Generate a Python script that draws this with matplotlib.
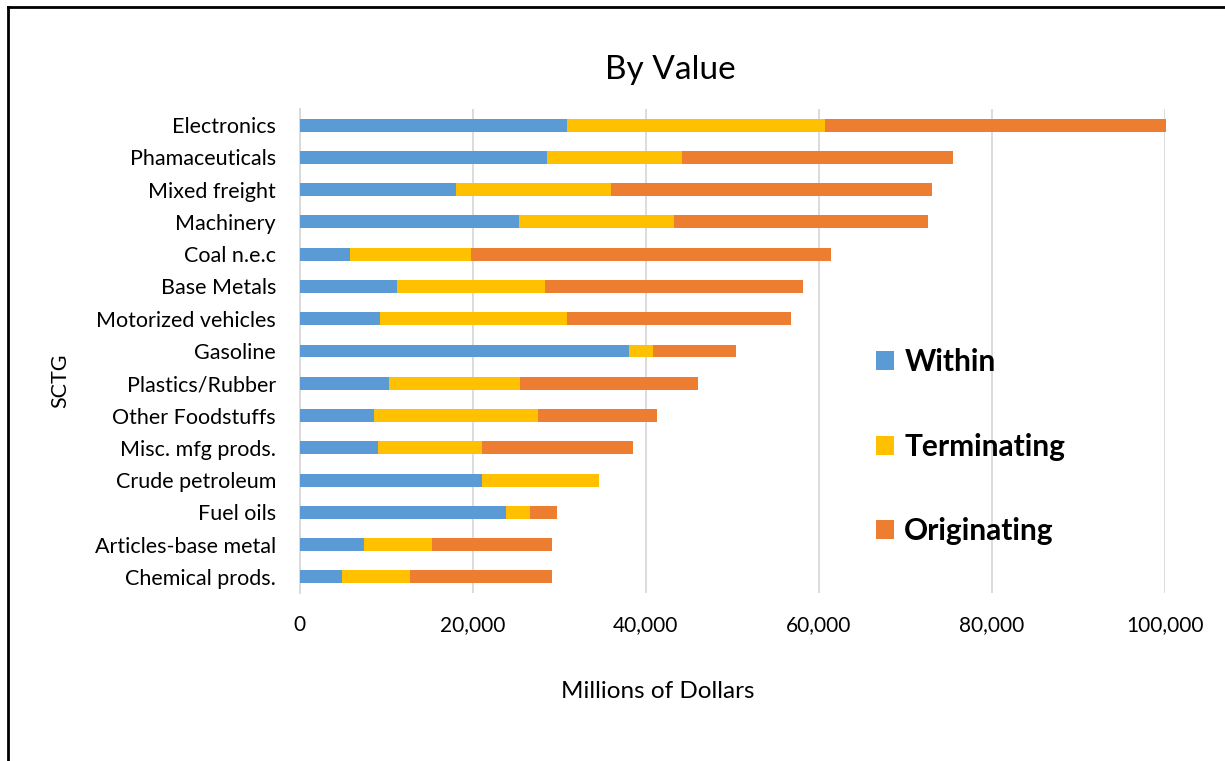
import matplotlib.pyplot as plt
import matplotlib.lines as mlines
from matplotlib.ticker import FuncFormatter

# Commodity groups (SCTG), listed top to bottom
categories = [
    "Electronics",
    "Phamaceuticals",
    "Mixed freight",
    "Machinery",
    "Coal n.e.c",
    "Base Metals",
    "Motorized vehicles",
    "Gasoline",
    "Plastics/Rubber",
    "Other Foodstuffs",
    "Misc. mfg prods.",
    "Crude petroleum",
    "Fuel oils",
    "Articles-base metal",
    "Chemical prods.",
]

# Millions of dollars
within = [30900, 28600, 18100, 25400, 5800, 11300, 9300, 38100, 10300, 8600, 9100, 21100, 23900, 7400, 4900]
terminating = [29800, 15600, 17900, 17900, 14000, 17100, 21600, 2700, 15200, 19000, 12000, 13500, 2700, 7900, 7900]
originating = [39500, 31300, 37100, 29300, 41600, 29800, 25900, 9600, 20500, 13700, 17400, 0, 3100, 13900, 16400]

series_names = ["Within", "Terminating", "Originating"]
colors = ["#5B9BD5", "#FFC000", "#ED7D31"]

plt.rcParams["font.family"] = ["Lato", "DejaVu Sans"]

fig = plt.figure(figsize=(12.25, 7.61), dpi=100)
ax = fig.add_axes([299.7 / 1225, 1 - 593 / 761, (1164.6 - 299.7) / 1225, (593 - 109) / 761])

y = list(range(len(categories)))
left = [0] * len(categories)
handles = []
for name, vals, col in zip(series_names, [within, terminating, originating], colors):
    bars = ax.barh(y, vals, left=left, height=0.4, color=col, label=name, zorder=3)
    for b in bars:
        b.set_clip_on(False)
    handles.append(bars)
    left = [l + v for l, v in zip(left, vals)]

ax.set_xlim(0, 100000)
ax.set_ylim(len(categories) - 0.5, -0.5)
ax.set_xticks(range(0, 100001, 20000))
ax.xaxis.set_major_formatter(FuncFormatter(lambda v, p: f"{int(v):,}"))
ax.set_yticks(y)
ax.set_yticklabels(categories)

ax.grid(axis="x", color="#D9D9D9", linewidth=1.3, zorder=0)
ax.tick_params(axis="both", length=0, labelsize=15.5, colors="#000000")
ax.tick_params(axis="x", pad=16, labelsize=15)
ax.tick_params(axis="y", pad=17)
for side in ["top", "right", "bottom"]:
    ax.spines[side].set_visible(False)
ax.spines["left"].set_color("#D9D9D9")
ax.spines["left"].set_linewidth(1.3)

fig.text(670 / 1225, 1 - 70 / 761, "By Value", fontsize=24, ha="center", va="center")
fig.text(658 / 1225, 1 - 692 / 761, "Millions of Dollars", fontsize=17.5, ha="center", va="center")
fig.text(60 / 1225, 1 - 381 / 761, "SCTG", fontsize=15.5, ha="center", va="center", rotation=90)

leg = ax.legend(
    handles=handles,
    loc="upper left",
    bbox_to_anchor=(864 / 1225, 1 - 336 / 761),
    bbox_transform=fig.transFigure,
    frameon=False,
    prop={"size": 21.5, "weight": "bold"},
    handlelength=0.6,
    handleheight=0.6,
    handletextpad=0.35,
    labelspacing=1.9,
    borderaxespad=0,
)

# Outer chart border (top and left edges)
fig.add_artist(mlines.Line2D([8 / 1225, 8 / 1225], [0, 1 - 7 / 761], color="black", linewidth=2))
fig.add_artist(mlines.Line2D([8 / 1225, 1], [1 - 7 / 761, 1 - 7 / 761], color="black", linewidth=2))

fig.savefig("out.png", dpi=100)
